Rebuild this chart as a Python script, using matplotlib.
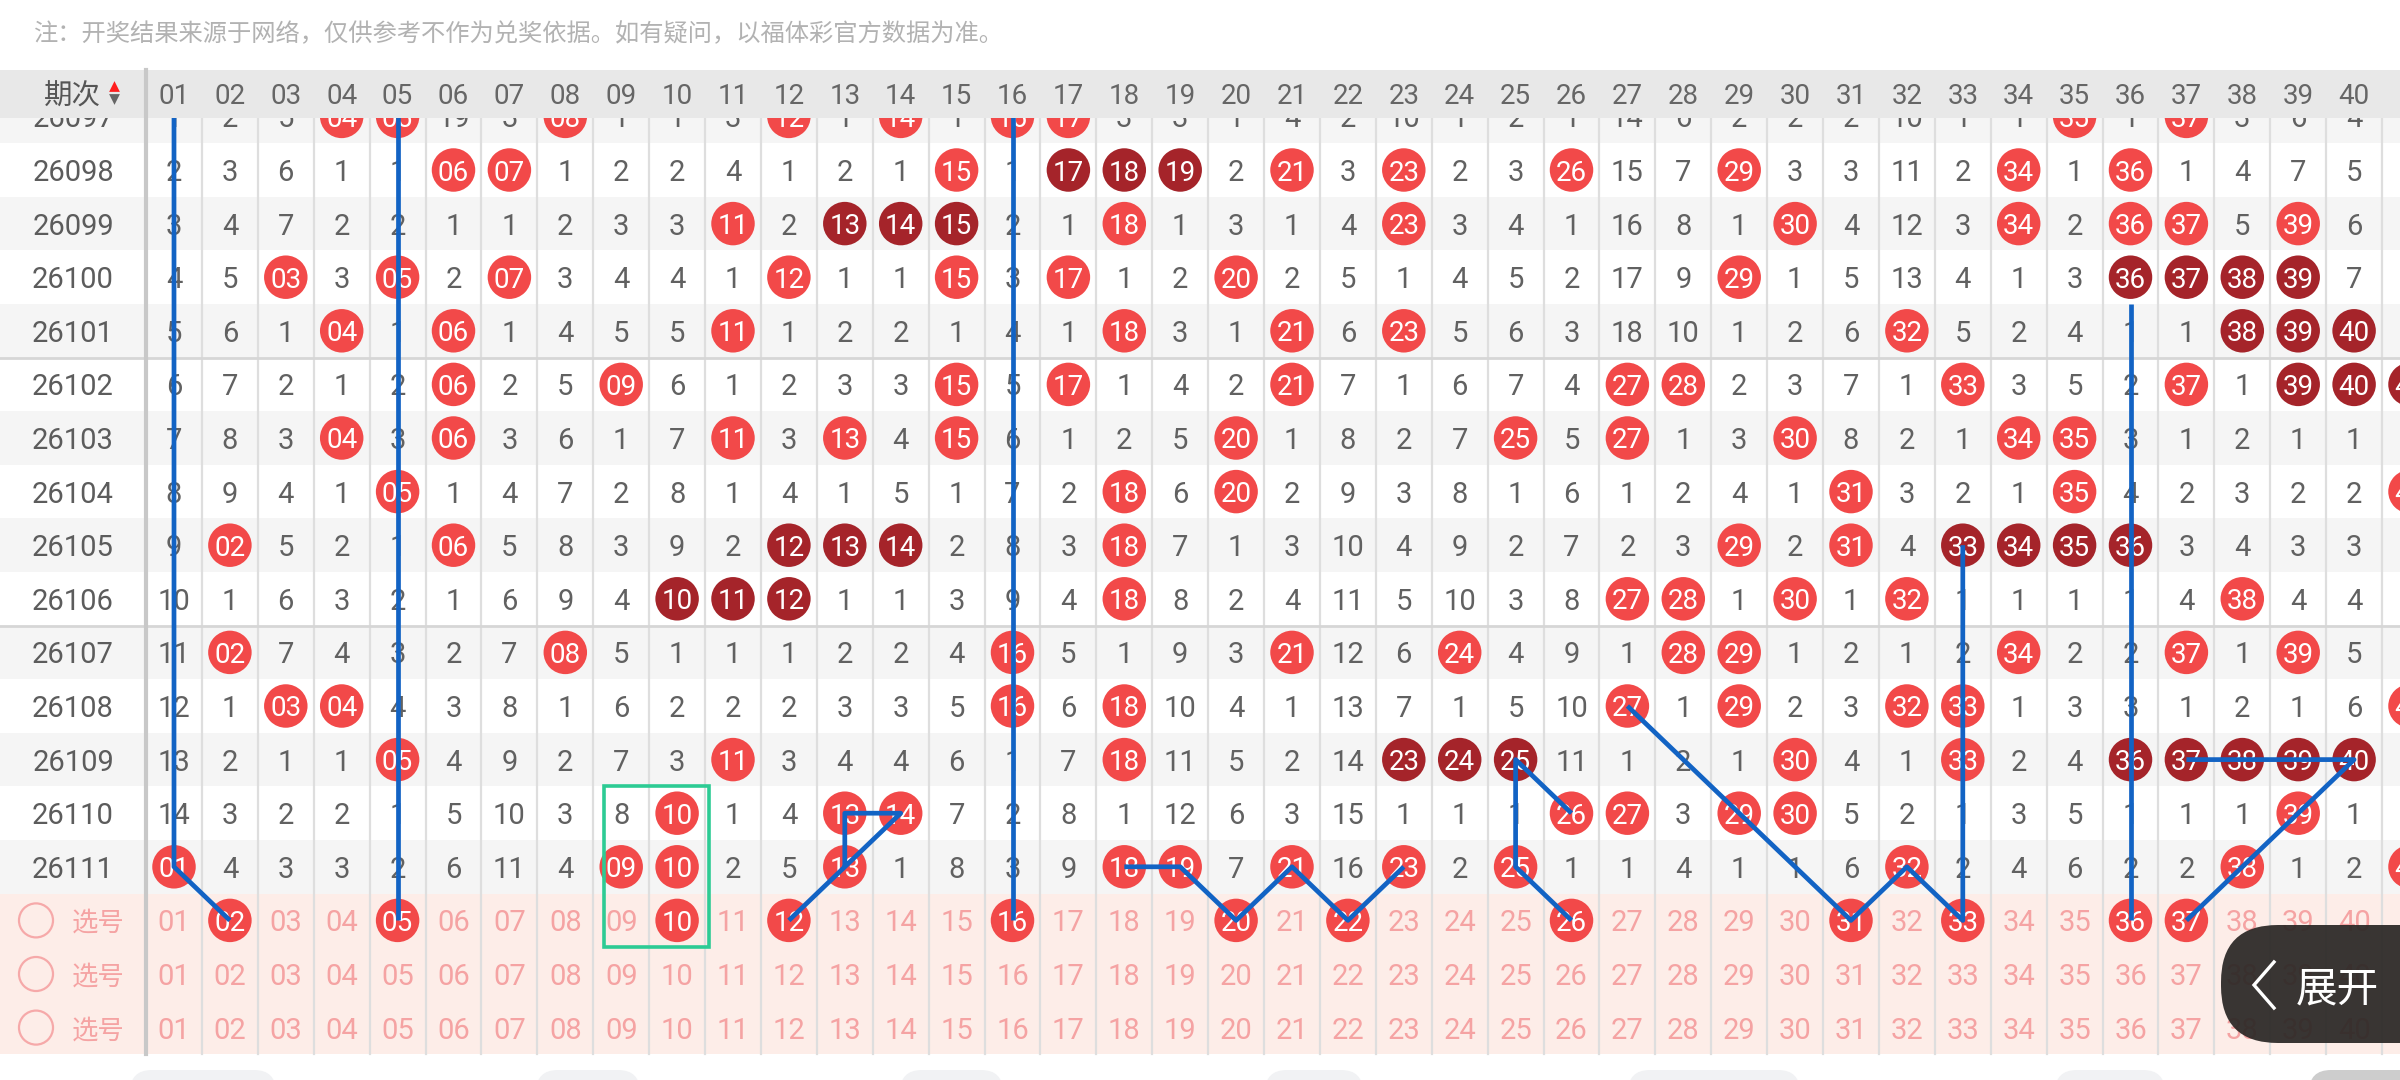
import matplotlib
matplotlib.use("Agg")
import matplotlib.pyplot as plt
from matplotlib.patches import Rectangle, FancyBboxPatch

# ---------------- data ----------------
NOTE = "注：开奖结果来源于网络，仅供参考不作为兑奖依据。如有疑问，以福体彩官方数据为准。"
HEADER_TITLE = "期次"
SELECT_LABEL = "选号"
EXPAND_LABEL = "展开"

numbers = [f"{n:02d}" for n in range(1, 41)]
periods = ["26097", "26098", "26099", "26100", "26101", "26102", "26103", "26104",
           "26105", "26106", "26107", "26108", "26109", "26110", "26111"]

# miss counts per number (0 = drawn in that period)
miss_26097 = [1, 2, 5, 0, 0, 19, 3, 0, 1, 1, 3, 0, 1, 0, 1, 0, 0, 3, 3, 1, 4, 2, 10, 1, 2, 1, 14, 6, 2, 2, 2, 10, 1, 1, 0, 1, 0, 3, 6, 4]
miss_26098 = [2, 3, 6, 1, 1, 0, 0, 1, 2, 2, 4, 1, 2, 1, 0, 1, 0, 0, 0, 2, 0, 3, 0, 2, 3, 0, 15, 7, 0, 3, 3, 11, 2, 0, 1, 0, 1, 4, 7, 5]
miss_26099 = [3, 4, 7, 2, 2, 1, 1, 2, 3, 3, 0, 2, 0, 0, 0, 2, 1, 0, 1, 3, 1, 4, 0, 3, 4, 1, 16, 8, 1, 0, 4, 12, 3, 0, 2, 0, 0, 5, 0, 6]
miss_26100 = [4, 5, 0, 3, 0, 2, 0, 3, 4, 4, 1, 0, 1, 1, 0, 3, 0, 1, 2, 0, 2, 5, 1, 4, 5, 2, 17, 9, 0, 1, 5, 13, 4, 1, 3, 0, 0, 0, 0, 7]
miss_26101 = [5, 6, 1, 0, 1, 0, 1, 4, 5, 5, 0, 1, 2, 2, 1, 4, 1, 0, 3, 1, 0, 6, 0, 5, 6, 3, 18, 10, 1, 2, 6, 0, 5, 2, 4, 1, 1, 0, 0, 0]
miss_26102 = [6, 7, 2, 1, 2, 0, 2, 5, 0, 6, 1, 2, 3, 3, 0, 5, 0, 1, 4, 2, 0, 7, 1, 6, 7, 4, 0, 0, 2, 3, 7, 1, 0, 3, 5, 2, 0, 1, 0, 0]
miss_26103 = [7, 8, 3, 0, 3, 0, 3, 6, 1, 7, 0, 3, 0, 4, 0, 6, 1, 2, 5, 0, 1, 8, 2, 7, 0, 5, 0, 1, 3, 0, 8, 2, 1, 0, 0, 3, 1, 2, 1, 1]
miss_26104 = [8, 9, 4, 1, 0, 1, 4, 7, 2, 8, 1, 4, 1, 5, 1, 7, 2, 0, 6, 0, 2, 9, 3, 8, 1, 6, 1, 2, 4, 1, 0, 3, 2, 1, 0, 4, 2, 3, 2, 2]
miss_26105 = [9, 0, 5, 2, 1, 0, 5, 8, 3, 9, 2, 0, 0, 0, 2, 8, 3, 0, 7, 1, 3, 10, 4, 9, 2, 7, 2, 3, 0, 2, 0, 4, 0, 0, 0, 0, 3, 4, 3, 3]
miss_26106 = [10, 1, 6, 3, 2, 1, 6, 9, 4, 0, 0, 0, 1, 1, 3, 9, 4, 0, 8, 2, 4, 11, 5, 10, 3, 8, 0, 0, 1, 0, 1, 0, 1, 1, 1, 1, 4, 0, 4, 4]
miss_26107 = [11, 0, 7, 4, 3, 2, 7, 0, 5, 1, 1, 1, 2, 2, 4, 0, 5, 1, 9, 3, 0, 12, 6, 0, 4, 9, 1, 0, 0, 1, 2, 1, 2, 0, 2, 2, 0, 1, 0, 5]
miss_26108 = [12, 1, 0, 0, 4, 3, 8, 1, 6, 2, 2, 2, 3, 3, 5, 0, 6, 0, 10, 4, 1, 13, 7, 1, 5, 10, 0, 1, 0, 2, 3, 0, 0, 1, 3, 3, 1, 2, 1, 6]
miss_26109 = [13, 2, 1, 1, 0, 4, 9, 2, 7, 3, 0, 3, 4, 4, 6, 1, 7, 0, 11, 5, 2, 14, 0, 0, 0, 11, 1, 2, 1, 0, 4, 1, 0, 2, 4, 0, 0, 0, 0, 0]
miss_26110 = [14, 3, 2, 2, 1, 5, 10, 3, 8, 0, 1, 4, 0, 0, 7, 2, 8, 1, 12, 6, 3, 15, 1, 1, 1, 0, 0, 3, 0, 0, 5, 2, 1, 3, 5, 1, 1, 1, 0, 1]
miss_26111 = [0, 4, 3, 3, 2, 6, 11, 4, 0, 0, 2, 5, 0, 1, 8, 3, 9, 0, 0, 7, 0, 16, 0, 2, 0, 1, 1, 4, 1, 1, 6, 0, 2, 4, 6, 2, 2, 0, 1, 2]
miss_values = [miss_26097, miss_26098, miss_26099, miss_26100, miss_26101, miss_26102,
               miss_26103, miss_26104, miss_26105, miss_26106, miss_26107, miss_26108,
               miss_26109, miss_26110, miss_26111]

# partly visible next column (41) at the right edge
edge_number = "41"
edge_hits = ["26102", "26104", "26108", "26111"]

selection_rows = 3
selected_row1 = ["02", "05", "10", "12", "16", "20", "22", "26", "31", "33", "36", "37"]

# user drawn trend lines: (number, period) ; "S1" = first selection row
trend_lines = [
    [("01", 26097), ("01", 26111), ("02", "S1")],
    [("05", 26097), ("05", "S1")],
    [("16", 26097), ("16", "S1")],
    [("12", "S1"), ("14", 26110), ("13", 26110), ("13", 26111)],
    [("18", 26111), ("19", 26111), ("20", "S1"), ("21", 26111), ("22", "S1"), ("23", 26111)],
    [("26", 26110), ("25", 26109), ("25", 26111), ("26", "S1")],
    [("27", 26108), ("31", "S1"), ("32", 26111), ("33", "S1"), ("33", 26105)],
    [("36", 26100.5), ("36", "S1")],
    [("37", "S1"), ("40", 26109), ("37", 26109)],
]
box_numbers = ("09", "10")
box_periods = (26110, "S1")

# ---------------- style ----------------
NUMF = "Roboto"
CJK = ["Noto Sans CJK SC", "DejaVu Sans"]
RED = "#F24949"
DARK = "#A5242A"
TXT = "#616161"
STRIPE = "#F5F5F5"
PINK = "#FDEDE8"
PINK_TXT = "#F5A3A3"
GRID = "#DEDEDE"
SEP = "#C8C8C8"
HSEP = "#D6D6D6"
HEAD_BG = "#E8E8E8"
BLUE = "#1263C4"
GREEN = "#2DCB94"

W, H = 2400, 1080
X0, CW = 174.0, 55.9     # pixel centre of column 01, column width
Y0, RH = 116.4, 53.6     # pixel centre of first period row, row height


def px2x(px):
    return 1 + (px - X0) / CW


def px2y(py):
    return (py - Y0) / RH


def rowpos(p):
    if p == "S1":
        return float(len(periods))
    return float(p) - float(periods[0])


def dark_runs(hits):
    hs = sorted(hits)
    dark = set()
    start = 0
    for i in range(1, len(hs) + 1):
        if i == len(hs) or hs[i] != hs[i - 1] + 1:
            if i - start >= 3:
                dark.update(hs[start:i])
            start = i
    return dark


fig = plt.figure(figsize=(W / 100, H / 100), dpi=100)
ax = fig.add_axes([0, 0, 1, 1])
ax.set_xlim(px2x(0), px2x(W))
ax.set_ylim(px2y(H), px2y(0))
ax.axis("off")
left, right = px2x(0), px2x(W)
nrows, ncols = len(periods), len(numbers)

# backgrounds
for i, p in enumerate(periods):
    ax.add_patch(Rectangle((left, i - 0.5), right - left, 1,
                           fc=STRIPE if i % 2 == 0 else "white", ec="none", zorder=0))
ax.add_patch(Rectangle((left, nrows - 0.5), right - left, selection_rows,
                       fc=PINK, ec="none", zorder=0))

grid_top = px2y(118)
grid_bot = nrows - 0.5 + selection_rows
for k in range(1, ncols + 2):
    ax.plot([k + 0.5, k + 0.5], [grid_top, grid_bot], color=GRID, lw=1.6, zorder=1)
ax.plot([0.5, 0.5], [px2y(70), grid_bot], color=SEP, lw=3.0, zorder=22)
for i, p in enumerate(periods[:-1]):
    if int(p) % 5 == 1:
        ax.plot([left, right], [i + 0.5, i + 0.5], color=HSEP, lw=2.0, zorder=1)

# cells
bx, by, bc, bt = [], [], [], []
for i, p in enumerate(periods):
    ax.text(px2x(73), i, p, ha="center", va="center_baseline", fontsize=21,
            color="#5C5C5C", family=NUMF, zorder=4)
    row = miss_values[i]
    hits = [j + 1 for j, v in enumerate(row) if v == 0]
    if p in edge_hits:
        hits.append(int(edge_number))
    dark = dark_runs(hits)
    for j, v in enumerate(row):
        if v != 0:
            ax.text(j + 1, i, str(v), ha="center", va="center_baseline", fontsize=21,
                    color=TXT, family=NUMF, zorder=4)
    for h in hits:
        bx.append(h)
        by.append(i)
        bc.append(DARK if h in dark else RED)
        bt.append(f"{h:02d}")

# selection rows
for s in range(selection_rows):
    r = nrows + s
    ax.scatter([px2x(36)], [r], s=600, facecolors="none", edgecolors="#F6A9A9",
               linewidths=1.6, zorder=4)
    ax.text(px2x(98), r, SELECT_LABEL, ha="center", va="center_baseline", fontsize=19,
            color=PINK_TXT, family=CJK, zorder=4)
    for j, n in enumerate(numbers):
        if s == 0 and n in selected_row1:
            bx.append(j + 1)
            by.append(r)
            bc.append(RED)
            bt.append(n)
        else:
            ax.text(j + 1, r, n, ha="center", va="center_baseline", fontsize=21,
                    color=PINK_TXT, family=NUMF, zorder=4)

ax.scatter(bx, by, s=980, c=bc, linewidths=0, zorder=5)
for x, y, t in zip(bx, by, bt):
    ax.text(x, y, t, ha="center", va="center_baseline", fontsize=20,
            color="white", family=NUMF, zorder=6)

# trend lines
for line in trend_lines:
    xs = [int(n) for n, _ in line]
    ys = [rowpos(p) for _, p in line]
    ax.plot(xs, ys, color=BLUE, lw=3.4, zorder=8, solid_joinstyle="round",
            solid_capstyle="butt")

# highlight box
bx0 = int(box_numbers[0]) - 0.30
bx1 = int(box_numbers[1]) + 0.57
by0 = rowpos(box_periods[0]) - 0.5
by1 = rowpos(box_periods[1]) + 0.5
ax.add_patch(Rectangle((bx0, by0), bx1 - bx0, by1 - by0, fill=False,
                       ec=GREEN, lw=2.6, zorder=9))

# header
ax.add_patch(Rectangle((left, px2y(70)), right - left, px2y(118) - px2y(70),
                       fc=HEAD_BG, ec="none", zorder=20))
hy = px2y(93)
for j, n in enumerate(numbers):
    ax.text(j + 1, hy, n, ha="center", va="center_baseline", fontsize=20,
            color="#666666", family=NUMF, zorder=21)
ax.text(px2x(72), hy, HEADER_TITLE, ha="center", va="center_baseline", fontsize=20.5,
        color="#555555", family=CJK, zorder=21)
ax.scatter([px2x(114)], [px2y(86)], marker="^", s=60, color="#FF1E1E", linewidths=0, zorder=21)
ax.scatter([px2x(114)], [px2y(99)], marker="v", s=60, color="#666666", linewidths=0, zorder=21)

# note
ax.text(px2x(34), px2y(31), NOTE, ha="left", va="center_baseline", fontsize=17.5,
        color="#B2B2B2", family=CJK, zorder=21)

# overlay (UI widgets)
ov = fig.add_axes([0, 0, 1, 1])
ov.set_xlim(0, W)
ov.set_ylim(H, 0)
ov.axis("off")
ov.patch.set_alpha(0)
for (x0, x1, col) in [(130, 276, "#F1F2F4"), (536, 640, "#F1F2F4"), (900, 1003, "#F1F2F4"),
                      (1265, 1363, "#F1F2F4"), (1628, 1800, "#F1F2F4"),
                      (2055, 2165, "#F1F2F4"), (2309, 2460, "#CDCDCD")]:
    ov.add_patch(FancyBboxPatch((x0, 1070), x1 - x0, 60,
                                boxstyle="round,pad=0,rounding_size=22",
                                fc=col, ec="none"))
ov.add_patch(FancyBboxPatch((2221, 925), 300, 118,
                            boxstyle="round,pad=0,rounding_size=57",
                            fc="#2A2725", ec="none", alpha=0.93))
ov.plot([2274, 2254, 2274], [962, 985, 1008], color="white", lw=2.4,
        solid_joinstyle="miter")
ov.text(2337, 986, EXPAND_LABEL, ha="center", va="center_baseline", fontsize=30,
        color="white", family=CJK)

fig.savefig("out.png", dpi=100)
